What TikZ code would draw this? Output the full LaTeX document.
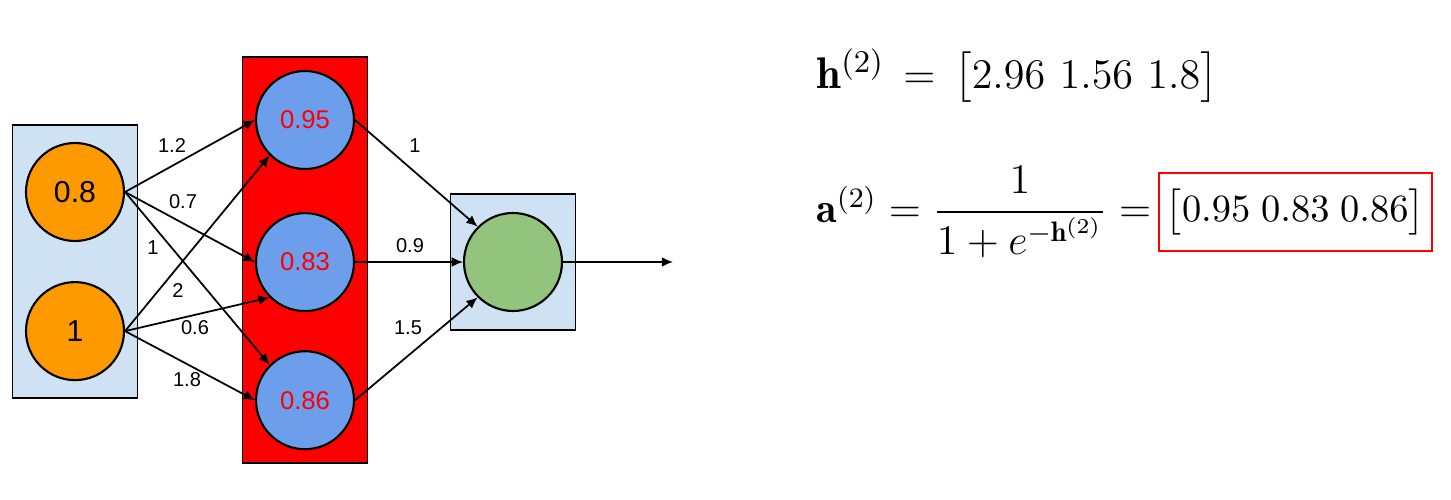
\documentclass[tikz,border=0pt]{standalone}
\usepackage{amsmath}
\usepackage{fontspec}
\newfontfamily\arialfont{Liberation Sans}
\usetikzlibrary{
    positioning,  % relative placement
    arrows.meta,  % arrow tips
    fit,          % layer boxes
    backgrounds   % boxes behind the neurons
}
\definecolor{inorange}{HTML}{FF9900}
\definecolor{hidblue}{HTML}{6D9EEB}
\definecolor{outgreen}{HTML}{93C47D}
\definecolor{boxblue}{HTML}{CFE2F3}
\definecolor{hotred}{HTML}{FF0000}

\begin{document}
\begin{tikzpicture}[
        neuron/.style={
            circle,
            draw=black,
            line width=0.6pt,
            minimum size=0.98cm,
            inner sep=0pt,
            fill=#1,
            font=\arialfont
        },
        neuron/.default=inorange,
        layerbox/.style={
            rectangle,
            draw=black,
            line width=0.5pt,
            fill=#1,
            inner xsep=0.125cm
        },
        layerbox/.default=boxblue,
        wlabel/.style={
            font=\arialfont\fontsize{5.7}{6}\selectfont,
            inner sep=0pt
        },
        arrow/.style={
            -{Latex[length=3.2pt,width=2.8pt]},
            line width=0.5pt
        },
        formula/.style={
            anchor=west,
            inner sep=0pt,
            font=\fontsize{12}{14}\selectfont
        }
    ]
    \useasboundingbox (0,0) rectangle (14.51,-4.99);

    % input layer
    \node[neuron=inorange, font=\arialfont\fontsize{8.6}{9}\selectfont] (x1) at (0.75,-1.92) {0.8};
    \node[neuron=inorange, font=\arialfont\fontsize{8.6}{9}\selectfont, below=0.39cm of x1] (x2) {1};

    % hidden layer
    \node[neuron=hidblue, text=hotred, font=\arialfont\fontsize{7.3}{8}\selectfont] (h1) at (3.05,-1.20) {0.95};
    \node[neuron=hidblue, text=hotred, font=\arialfont\fontsize{7.3}{8}\selectfont, below=0.42cm of h1] (h2) {0.83};
    \node[neuron=hidblue, text=hotred, font=\arialfont\fontsize{7.3}{8}\selectfont, below=0.38cm of h2] (h3) {0.86};

    % output layer
    \node[neuron=outgreen] (y) at (5.13,-2.62) {};
    \coordinate[right=1.1cm of y] (yend);

    % layer boxes
    \begin{scope}[on background layer]
        \node[layerbox=boxblue, inner ysep=0.17cm, fit=(x1)(x2)] (inbox) {};
        \node[layerbox=hotred, inner ysep=0.13cm, fit=(h1)(h3)] (hidbox) {};
        \node[layerbox=boxblue, inner ysep=0.18cm, fit=(y)] (outbox) {};
    \end{scope}

    % weights input -> hidden
    \draw[arrow] (x1.east) -- (h1.west);
    \draw[arrow] (x1.east) -- (h2.west);
    \draw[arrow] (x1.east) -- (h3.north west);
    \draw[arrow] (x2.east) -- (h1.south west);
    \draw[arrow] (x2.east) -- (h2.south west);
    \draw[arrow] (x2.east) -- (h3.west);

    % weights hidden -> output
    \draw[arrow] (h1.east) -- (y.north west);
    \draw[arrow] (h2.east) -- (y.west);
    \draw[arrow] (h3.east) -- (y.south west);
    \draw[arrow] (y.east) -- (yend);

    % weight labels
    \node[wlabel] (w11) at (1.72,-1.46) {1.2};
    \node[wlabel] (w12) at (1.83,-2.02) {0.7};
    \node[wlabel] (w13) at (1.53,-2.48) {1};
    \node[wlabel] (w21) at (1.78,-2.91) {2};
    \node[wlabel] (w22) at (1.95,-3.28) {0.6};
    \node[wlabel] (w23) at (1.87,-3.80) {1.8};
    \node[wlabel] (v1) at (4.15,-1.46) {1};
    \node[wlabel] (v2) at (4.10,-2.46) {0.9};
    \node[wlabel] (v3) at (4.08,-3.28) {1.5};

    % equations
    \node[formula, font=\fontsize{12.6}{14}\selectfont] (hvec) at (8.16,-0.76) {$\mathbf{h}^{(2)}\,=\,\big[2.96\ 1.56\ 1.8\big]$};
    \node[formula] (avec) at (8.16,-2.12) {$\mathbf{a}^{(2)} = \dfrac{1}{1+e^{-\mathbf{h}^{(2)}}} =$};
    \node[formula, font=\fontsize{11.4}{14}\selectfont, draw=hotred, line width=0.6pt, inner xsep=2pt,
          minimum height=0.78cm, right=0.06cm of avec] (ares) {$\big[0.95\;0.83\;0.86\big]$};
\end{tikzpicture}
\end{document}
